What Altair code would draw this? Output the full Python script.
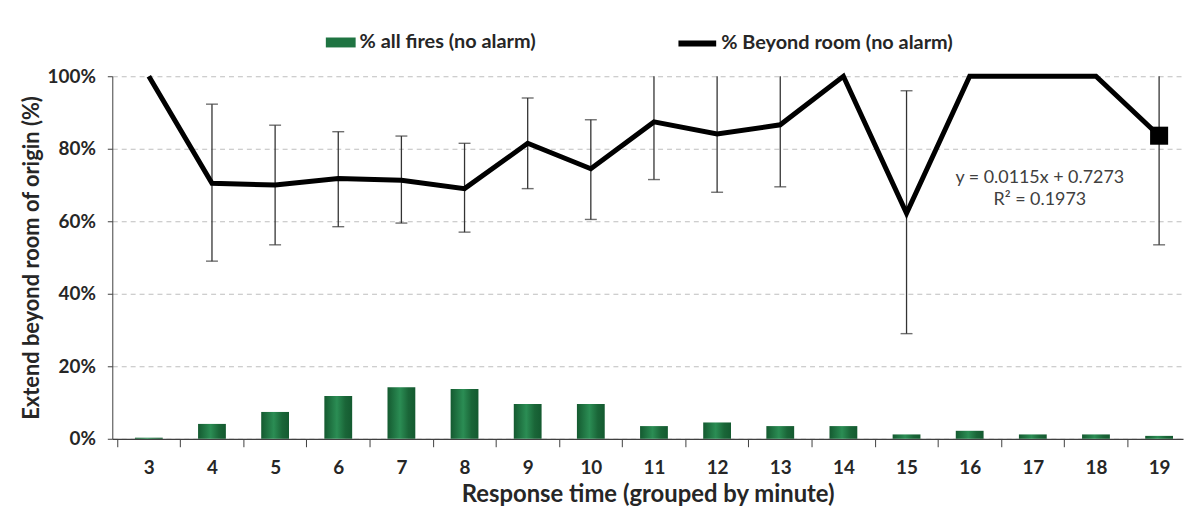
import altair as alt
import pandas as pd

minutes = list(range(3, 20))
pct_all_fires = [0.003, 0.041, 0.074, 0.118, 0.142, 0.137, 0.096, 0.096, 0.035,
                 0.045, 0.035, 0.035, 0.012, 0.022, 0.012, 0.012, 0.008]
pct_beyond = [1.0, 0.705, 0.70, 0.718, 0.713, 0.69, 0.815, 0.745, 0.874,
              0.841, 0.866, 1.0, 0.622, 1.0, 1.0, 1.0, 0.836]
err_low = [None, 0.49, 0.535, 0.585, 0.595, 0.57, 0.69, 0.605, 0.715,
           0.68, 0.695, None, 0.29, None, None, None, 0.535]
err_high = [None, 0.923, 0.865, 0.847, 0.835, 0.815, 0.94, 0.88, 1.0,
            1.0, 1.0, None, 0.96, None, None, None, 1.0]
eq_lines = ["y = 0.0115x + 0.7273", "R² = 0.1973"]
eq_x = [17.11, 17.11]
eq_y = [0.7205, 0.6575]

S_BAR = "% all fires (no alarm)"
S_LINE = "% Beyond room (no alarm)"

df = pd.DataFrame({
    "minute": minutes,
    "fires": pct_all_fires,
    "beyond": pct_beyond,
    "lo": err_low,
    "hi": err_high,
    "s_bar": S_BAR,
    "s_line": S_LINE,
})
err_df = df.dropna(subset=["lo"])
caps = []
for m, lo, hi in zip(minutes, err_low, err_high):
    if lo is not None:
        caps.append({"minute": m, "v": lo})
    if hi is not None and hi < 1.0:
        caps.append({"minute": m, "v": hi})
caps_df = pd.DataFrame(caps)
eq_df = pd.DataFrame({"x": eq_x, "y": eq_y, "t": eq_lines})

FONT = "Lato"
TXT = "#262626"
xscale = alt.Scale(domain=[2.5, 19.3], nice=False, zero=False)
yscale = alt.Scale(domain=[0, 1], nice=False)

x_axis = alt.Axis(values=minutes, format="d", tickOffset=-32.1, labelOffset=32.1,
                  title="Response time (grouped by minute)", grid=False,
                  tickSize=8, labelPadding=12, titlePadding=5, titleFontSize=24,
                  domainColor="#404040", tickColor="#404040", domainWidth=1.3)
y_axis = alt.Axis(values=[0, 0.2, 0.4, 0.6, 0.8, 1.0], format=".0%",
                  title="Extend beyond room of origin (%)", grid=True,
                  gridDash=[5, 4], gridColor="#bfbfbf", gridWidth=1.2,
                  tickSize=5, labelPadding=12, titlePadding=4,
                  domainColor="#404040", tickColor="#404040")

base = alt.Chart(df)

bar_gradient = alt.LinearGradient(
    gradient="linear", x1=0, x2=1, y1=0, y2=0,
    stops=[alt.GradientStop(color="#145a30", offset=0),
           alt.GradientStop(color="#2b8d54", offset=0.45),
           alt.GradientStop(color="#1a6638", offset=0.75),
           alt.GradientStop(color="#145a30", offset=1)],
)

bars = base.mark_bar(size=28, color=bar_gradient).encode(
    x=alt.X("minute:Q", scale=xscale, axis=x_axis),
    y=alt.Y("fires:Q", scale=yscale, axis=y_axis),
)

bar_legend = base.mark_bar(size=28).encode(
    x="minute:Q",
    y=alt.datum(0),
    y2=alt.datum(0),
    fill=alt.Fill("s_bar:N", scale=alt.Scale(range=["#1f7442"]),
                  legend=alt.Legend(title=None, orient="none", legendX=220, legendY=-44,
                                    symbolType="M-1.5,-0.5H1.5V0.5H-1.5Z", symbolSize=400,
                                    symbolStrokeWidth=0, labelOffset=9, labelLimit=0,
                                    labelFont=FONT, labelFontSize=20, labelFontWeight="bold",
                                    labelColor=TXT)),
)

rules = alt.Chart(err_df).mark_rule(color="#333333", strokeWidth=1.3).encode(
    x="minute:Q", y="lo:Q", y2="hi:Q"
)
cap_marks = alt.Chart(caps_df).mark_tick(orient="horizontal", size=12, thickness=1.4,
                                         color="#333333").encode(
    x="minute:Q", y="v:Q"
)

line = base.mark_line(strokeWidth=5, strokeJoin="miter").encode(
    x="minute:Q",
    y="beyond:Q",
    stroke=alt.Stroke("s_line:N", scale=alt.Scale(range=["#000000"]),
                      legend=alt.Legend(title=None, orient="none", legendX=567, legendY=-55,
                                        symbolType="stroke", symbolSize=1444,
                                        symbolStrokeWidth=6, labelOffset=2, labelLimit=0,
                                        labelFont=FONT, labelFontSize=20,
                                        labelFontWeight="bold", labelColor=TXT)),
)

marker = base.mark_square(size=330, color="#000000", opacity=1).encode(
    x="minute:Q", y="beyond:Q"
).transform_filter(alt.datum.minute == 19)

eq_text = alt.Chart(eq_df).mark_text(font=FONT, fontSize=18, color="#404040").encode(
    x="x:Q", y="y:Q", text="t:N"
)

chart = alt.layer(bars, bar_legend, rules, cap_marks, line, marker, eq_text).properties(
    width=1078, height=365,
    padding={"left": 105, "top": 67, "right": 3, "bottom": 70},
    autosize="none",
).configure_view(stroke=None).configure_axis(
    labelFont=FONT, labelFontSize=19, labelFontWeight="bold", labelColor=TXT,
    titleFont=FONT, titleFontSize=22, titleFontWeight="bold", titleColor=TXT,
)

chart.save("out.html", embed_options={"renderer": "svg", "actions": False})
